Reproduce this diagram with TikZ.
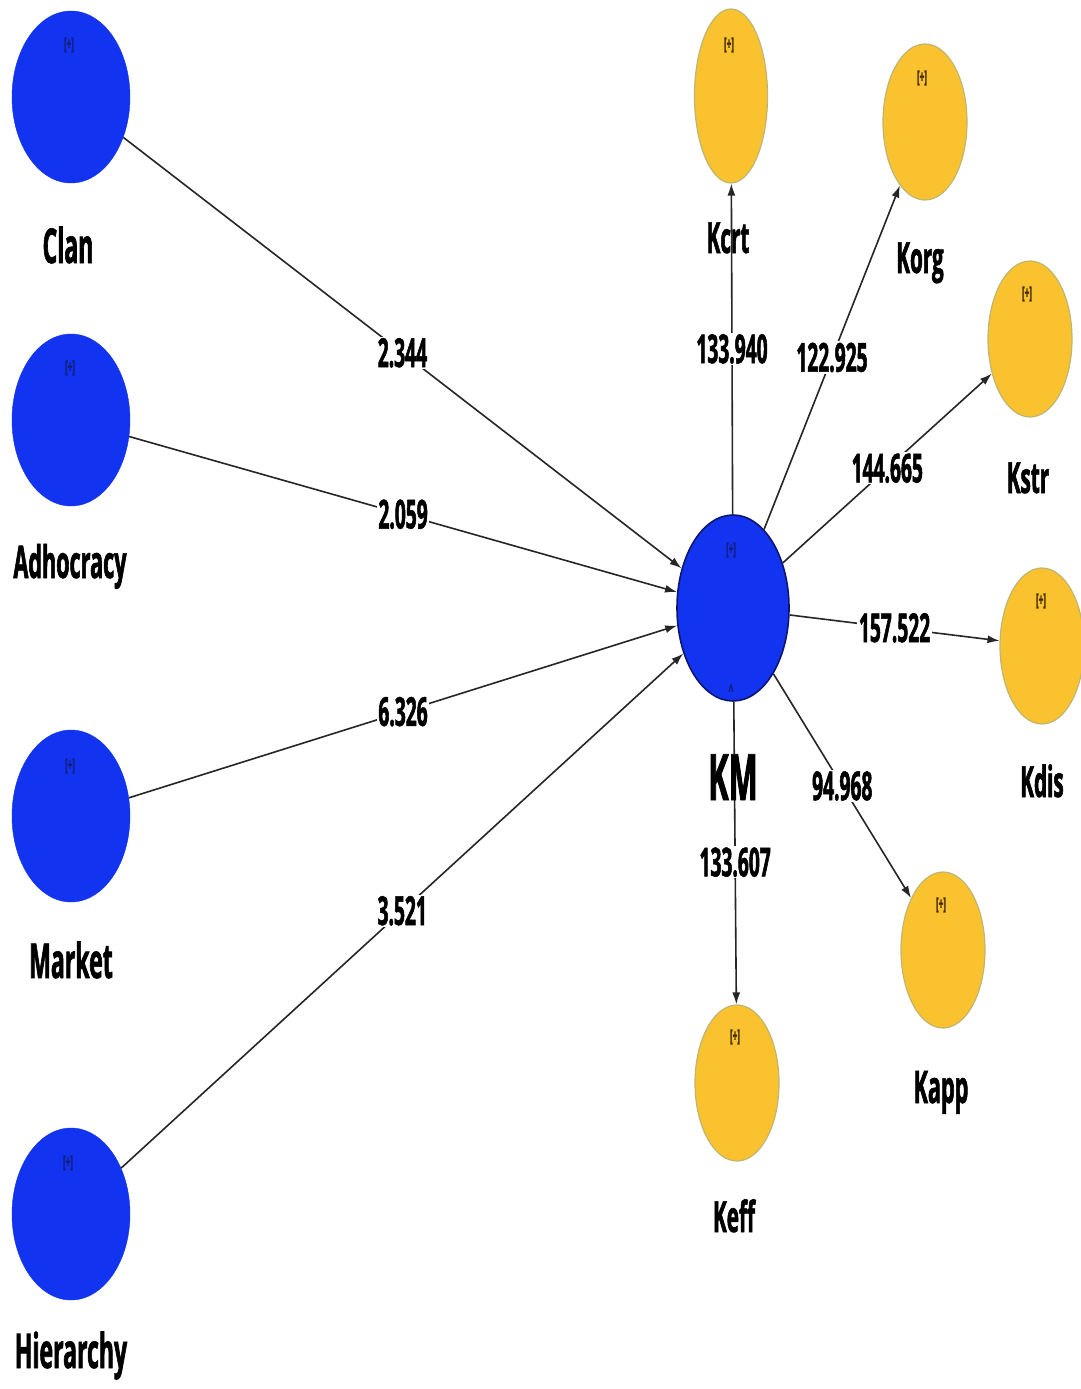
\documentclass[tikz,border=0pt]{standalone}
\usepackage{fontspec}
\newfontfamily\narrow[FakeStretch=0.48, BoldFeatures={FakeBold=1.3}]{Open Sans}
\usetikzlibrary{shapes.geometric,arrows.meta}
\definecolor{lvblue}{RGB}{18,52,240}
\definecolor{kmedge}{RGB}{12,22,110}
\definecolor{ind}{RGB}{250,194,46}
\definecolor{indedge}{RGB}{190,182,115}
\definecolor{tagblue}{RGB}{20,30,120}
\definecolor{tagbrown}{RGB}{60,40,10}

\begin{document}
\begin{tikzpicture}[x=1pt,y=-1pt,
  latent/.style={ellipse, fill=lvblue, draw=lvblue, minimum width=118pt, minimum height=172pt, inner sep=0pt},
  core/.style={ellipse, fill=lvblue, draw=kmedge, line width=1.6pt, minimum width=112pt, minimum height=186pt, inner sep=0pt},
  item/.style={ellipse, fill=ind, draw=indedge, line width=1.2pt, minimum width=84pt, minimum height=156pt, inner sep=0pt},
  tagb/.style={font=\narrow\bfseries\fontsize{17}{17}\selectfont, text=tagblue, inner sep=0pt},
  tagy/.style={font=\narrow\bfseries\fontsize{17}{17}\selectfont, text=tagbrown, inner sep=0pt},
  vname/.style={font=\narrow\bfseries\fontsize{48}{48}\selectfont, anchor=base, inner sep=1pt},
  coef/.style={font=\narrow\bfseries\fontsize{40}{40}\selectfont, fill=white, inner sep=1.5pt},
  link/.style={draw=black!85, line width=1.6pt, -{Latex[length=12pt,width=8pt]}},
]
\useasboundingbox (0,0) rectangle (1081,1389);
\fill[white] (0,0) rectangle (1081,1389);

% culture types (exogenous constructs)
\node[latent] (clan) at (71,97) {};
\node[latent] (adhocracy) at (71,420) {};
\node[latent] (market) at (71,816) {};
\node[latent] (hierarchy) at (71,1214) {};

% knowledge management construct
\node[core] (km) at (733,608) {};

% KM dimensions
\node[item, minimum width=73pt, minimum height=174pt] (kcrt) at (731,96) {};
\node[item] (korg) at (925,122) {};
\node[item] (kstr) at (1030,339) {};
\node[item] (kdis) at (1042,646) {};
\node[item] (kapp) at (943,950) {};
\node[item] (keff) at (737,1083) {};

% [+] markers
\node[tagb] (clan-tag) at (69,45) {[+]};
\node[tagb] (adhocracy-tag) at (70,368) {[+]};
\node[tagb] (market-tag) at (70,766) {[+]};
\node[tagb] (hierarchy-tag) at (68,1163) {[+]};
\node[tagb] (km-tag) at (731,550) {[+]};
\node[tagb] (km-mark) at (731,690) {\textasciicircum};
\node[tagy] (kcrt-tag) at (729,45) {[+]};
\node[tagy] (korg-tag) at (922,78) {[+]};
\node[tagy] (kstr-tag) at (1027,294) {[+]};
\node[tagy] (kdis-tag) at (1041,601) {[+]};
\node[tagy] (kapp-tag) at (941,905) {[+]};
\node[tagy] (keff-tag) at (735,1037) {[+]};

% construct names
\node[vname] (clan-name) at (68,263) {Clan};
\node[vname, font=\narrow\bfseries\fontsize{45}{45}\selectfont] (adhocracy-name) at (70,578) {Adhocracy};
\node[vname] (market-name) at (71,978) {Market};
\node[vname] (hierarchy-name) at (71,1368) {Hierarchy};
\node[vname, font=\narrow\bfseries\fontsize{43}{43}\selectfont] (kcrt-name) at (728,253) {Kcrt};
\node[vname, font=\narrow\bfseries\fontsize{43}{43}\selectfont] (korg-name) at (920,273) {Korg};
\node[vname, font=\narrow\bfseries\fontsize{43}{43}\selectfont] (kstr-name) at (1028,493) {Kstr};
\node[vname, font=\narrow\bfseries\fontsize{43}{43}\selectfont] (kdis-name) at (1042,797) {Kdis};
\node[vname, font=\narrow\bfseries\fontsize{45}{45}\selectfont] (kapp-name) at (941,1103) {Kapp};
\node[vname, font=\narrow\bfseries\fontsize{43}{43}\selectfont] (keff-name) at (734,1232) {Keff};

% structural paths with t-values
\draw[link] (clan) -- node[coef] {2.344} (km);
\draw[link] (adhocracy) -- node[coef] {2.059} (km);
\draw[link] (market) -- node[coef] {6.326} (km);
\draw[link] (hierarchy) -- node[coef] {3.521} (km);

% loadings to dimensions
\draw[link] (km) -- node[coef] {133.940} (kcrt);
\draw[link] (km) -- node[coef] {122.925} (korg);
\draw[link] (km) -- node[coef] {144.665} (kstr);
\draw[link] (km) -- node[coef] {157.522} (kdis);
\draw[link] (km) -- node[coef] {94.968} (kapp);
\draw[link] (km) -- node[coef, pos=0.53] {133.607} (keff);

\node[vname, font=\narrow\bfseries\fontsize{64}{64}\selectfont, fill=white, inner sep=0pt] (km-name) at (733,800) {KM};
\end{tikzpicture}
\end{document}
